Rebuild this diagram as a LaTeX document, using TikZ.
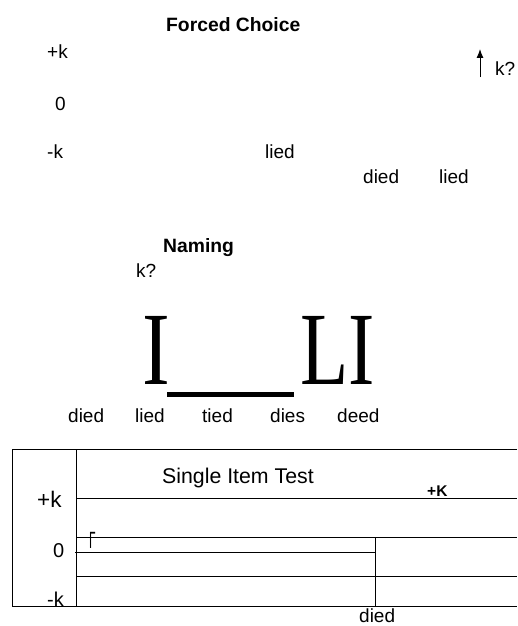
\documentclass[tikz,border=0pt]{standalone}
\usepackage{fontspec}
\setmainfont{Liberation Sans}
\newfontfamily\bigserif{Liberation Serif}
\usetikzlibrary{arrows.meta}
\tikzset{
  lbl/.style={inner sep=0pt, anchor=base west, font=\fontsize{19}{20}\selectfont},
  lblb/.style={lbl, font=\fontsize{19.3}{20}\selectfont\bfseries},
  boxlbl/.style={lbl, font=\fontsize{20}{22}\selectfont},
  bigl/.style={inner sep=0pt, anchor=base west, font=\fontsize{104}{110}\selectfont\bigserif},
  rule/.style={line width=1pt},
}
\begin{document}
\begin{tikzpicture}[x=1pt,y=-1pt]
\useasboundingbox (0,0) rectangle (517,626);
% Forced Choice
\node[lblb] (fc) at (166,32) {Forced Choice};
\node[lbl] (pk1) at (47,59) {+k};
\node[lbl] (z1) at (55,110) {0};
\node[lbl] (mk1) at (47,158) {-k};
\node[lbl] (lied1) at (265,158) {lied};
\node[lbl] (died1) at (363,183) {died};
\node[lbl] (lied2) at (439,183) {lied};
\node[lbl] (kq1) at (495,75) {k?};
\coordinate (atail) at (480,77);
\coordinate (ahead) at (480,49);
\draw[line width=1pt, -{Latex[length=9pt,width=7pt]}] (atail) -- (ahead);
% Naming
\node[lblb] (nm) at (163,252) {Naming};
\node[lbl] (kq2) at (136,277) {k?};
\node[bigl] (bigI) at (142.5,384) {\scalebox{0.8}[1]{I}};
\node[bigl] (bigLI) at (300,384) {\scalebox{0.76}[1]{LI}};
\coordinate (barL) at (167,394);
\coordinate (barR) at (294,394);
\draw[line width=5pt] (barL) -- (barR);
\node[lbl] (w1) at (68,422) {died};
\node[lbl] (w2) at (135,422) {lied};
\node[lbl] (w3) at (202,422) {tied};
\node[lbl] (w4) at (270,422) {dies};
\node[lbl] (w5) at (337,422) {deed};
% Single Item Test box
\draw[rule] (517,449) -- (12.5,449) -- (12.5,606) -- (517,606);
\draw[rule] (76,449) -- (76,606);
\draw[rule] (76,498) -- (517,498);
\draw[rule] (76,537) -- (517,537);
\draw[rule] (75,552) -- (375,552);
\draw[rule] (375,537) -- (375,606);
\draw[rule] (76,576) -- (517,576);
\node[inner sep=0pt, anchor=base west, font=\fontsize{21.3}{23}\selectfont] (sit) at (162,483) {Single Item Test};
\node[inner sep=0pt, anchor=base west, font=\fontsize{15.5}{17}\selectfont\bfseries] (pK) at (427,496) {+K};
\node[inner sep=0pt, anchor=base west, font=\fontsize{22.5}{24}\selectfont] (pk2) at (37,507) {+k};
\node[inner sep=0pt, anchor=base west, font=\fontsize{23.5}{25}\selectfont] (gam) at (89,548) {\scalebox{0.5}[1]{Γ}};
\node[boxlbl] (z2) at (53,557) {0};
\node[boxlbl] (mk2) at (47,606) {-k};
\node[lbl] (died2) at (359,622) {died};
\end{tikzpicture}
\end{document}
